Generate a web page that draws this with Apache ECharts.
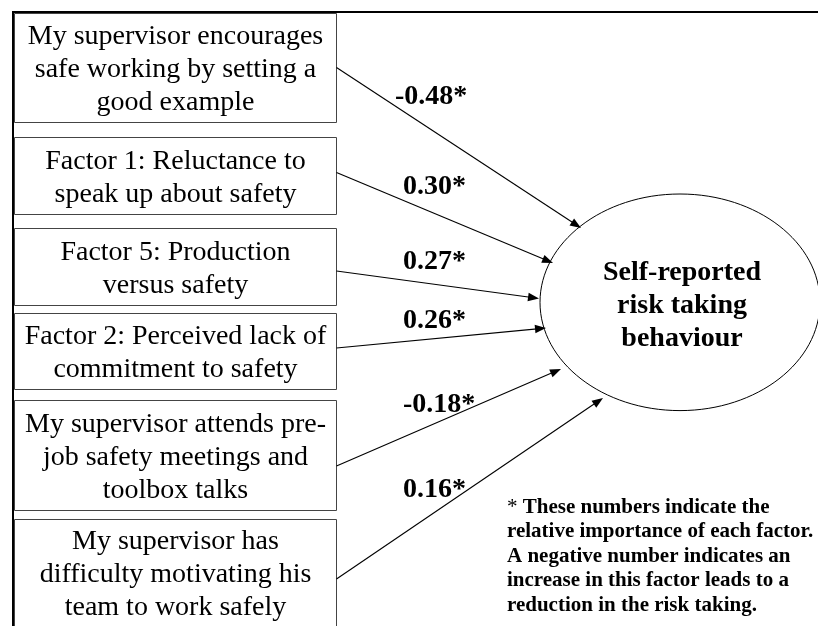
<!DOCTYPE html>
<html>
<head>
<meta charset="utf-8">
<script src="https://cdn.jsdelivr.net/npm/echarts@6/dist/echarts.min.js"></script>
<style>
html,body{margin:0;padding:0;background:#fff;}
#chart{width:818px;height:626px;}
</style>
</head>
<body>
<div id="chart"></div>
<script>
// ---------- DATA ----------
const factors = [
  'My supervisor encourages\nsafe working by setting a\ngood example',
  'Factor 1: Reluctance to\nspeak up about safety',
  'Factor 5: Production\nversus safety',
  'Factor 2: Perceived lack of\ncommitment to safety',
  'My supervisor attends pre-\njob safety meetings and\ntoolbox talks',
  'My supervisor has\ndifficulty motivating his\nteam to work safely'
];
const coefficients = [-0.48, 0.30, 0.27, 0.26, -0.18, 0.16];
const outcome = 'Self-reported\nrisk taking\nbehaviour';
const footnoteLines = [
  'These numbers indicate the',
  'relative importance of each factor.',
  'A negative number indicates an',
  'increase in this factor leads to a',
  'reduction in the risk taking.'
];

// ---------- LAYOUT (diagram units = px of the 818x626 canvas) ----------
const SERIF = '"Liberation Serif", "Times New Roman", serif';
const BOX_X0 = 14.5, BOX_X1 = 336.5;
const boxTop    = [13.5, 137.5, 228.5, 313.5, 400.5, 519.5];
const boxBottom = [122.5, 214.5, 305.5, 389.5, 510.5, 627];
const boxTextY  = [70, 178, 269, 353.5, 457.5, 575];
const arrowFrom = [[336.5, 67.5], [336.5, 172.5], [336.5, 271], [336.5, 348], [336.5, 466], [336.5, 579]];
const arrowTo   = [[581, 228], [553, 263], [539, 298.5], [546, 328], [561, 369], [603, 398]];
const labelPos  = [[395, 97], [403, 187], [403, 262], [403, 321], [403, 405], [403, 490]];
const ELLIPSE = {cx: 680, cy: 302.3, rx: 140, ry: 108.3, tx: 682, ty: 305.5};
const FOOT = {x: 507, y: 556.5};

const chart = echarts.init(document.getElementById('chart'), null, {renderer: 'canvas'});

const idx = factors.map((f, i) => [i]);

const option = {
  animation: false,
  backgroundColor: '#fff',
  grid: {left: 0, right: 0, top: 0, bottom: 0},
  xAxis: {type: 'value', min: 0, max: 818, show: false},
  yAxis: {type: 'value', min: 0, max: 626, inverse: true, show: false},
  series: [
    // frame
    {
      type: 'custom', coordinateSystem: 'cartesian2d', silent: true,
      data: [[0]],
      renderItem: function (params, api) {
        const a = api.coord([13, 12]);
        const b = api.coord([818, 12]);
        const c = api.coord([13, 626]);
        return {type: 'group', children: [
          {type: 'line', shape: {x1: a[0] - 1, y1: a[1], x2: b[0], y2: b[1]}, style: {stroke: '#000', lineWidth: 2}},
          {type: 'line', shape: {x1: a[0], y1: a[1], x2: c[0], y2: c[1]}, style: {stroke: '#000', lineWidth: 2}}
        ]};
      }
    },
    // factor boxes
    {
      type: 'custom', coordinateSystem: 'cartesian2d', silent: true,
      data: idx,
      renderItem: function (params, api) {
        const i = api.value(0);
        const p0 = api.coord([BOX_X0, boxTop[i]]);
        const p1 = api.coord([BOX_X1, boxBottom[i]]);
        const t = api.coord([(BOX_X0 + BOX_X1) / 2, boxTextY[i]]);
        return {type: 'group', children: [
          {type: 'rect', shape: {x: p0[0], y: p0[1], width: p1[0] - p0[0], height: p1[1] - p0[1]},
           style: {fill: '#fff', stroke: '#444', lineWidth: 1}},
          {type: 'text', style: {text: factors[i], x: t[0], y: t[1], align: 'center', verticalAlign: 'middle',
            fontFamily: SERIF, fontSize: 28, lineHeight: 33, fill: '#000'}}
        ]};
      }
    },
    // arrows
    {
      type: 'custom', coordinateSystem: 'cartesian2d', silent: true,
      data: idx,
      renderItem: function (params, api) {
        const i = api.value(0);
        const p0 = api.coord(arrowFrom[i]);
        const p1 = api.coord(arrowTo[i]);
        const dx = p1[0] - p0[0], dy = p1[1] - p0[1];
        const len = Math.sqrt(dx * dx + dy * dy);
        const ux = dx / len, uy = dy / len;
        const hl = 11, hw = 4.2;
        const bx = p1[0] - ux * hl, by = p1[1] - uy * hl;
        return {type: 'group', children: [
          {type: 'line', shape: {x1: p0[0], y1: p0[1], x2: bx + ux * 2, y2: by + uy * 2}, style: {stroke: '#000', lineWidth: 1.1}},
          {type: 'polygon', shape: {points: [[p1[0], p1[1]], [bx - uy * hw, by + ux * hw], [bx + uy * hw, by - ux * hw]]},
           style: {fill: '#000'}}
        ]};
      }
    },
    // coefficient labels
    {
      type: 'custom', coordinateSystem: 'cartesian2d', silent: true,
      data: idx,
      renderItem: function (params, api) {
        const i = api.value(0);
        const p = api.coord(labelPos[i]);
        return {type: 'text', style: {text: coefficients[i].toFixed(2) + '*', x: p[0], y: p[1],
          align: 'left', verticalAlign: 'middle', fontFamily: SERIF, fontSize: 28, fontWeight: 'bold', fill: '#000'}};
      }
    },
    // outcome ellipse
    {
      type: 'custom', coordinateSystem: 'cartesian2d', silent: true,
      data: [[0]],
      renderItem: function (params, api) {
        const c = api.coord([ELLIPSE.cx, ELLIPSE.cy]);
        const e = api.coord([ELLIPSE.cx + ELLIPSE.rx, ELLIPSE.cy + ELLIPSE.ry]);
        const t = api.coord([ELLIPSE.tx, ELLIPSE.ty]);
        return {type: 'group', children: [
          {type: 'ellipse', shape: {cx: c[0], cy: c[1], rx: e[0] - c[0], ry: e[1] - c[1]},
           style: {fill: 'none', stroke: '#000', lineWidth: 1}},
          {type: 'text', style: {text: outcome, x: t[0], y: t[1], align: 'center', verticalAlign: 'middle',
            fontFamily: SERIF, fontSize: 28, fontWeight: 'bold', lineHeight: 33, fill: '#000'}}
        ]};
      }
    },
    // footnote
    {
      type: 'custom', coordinateSystem: 'cartesian2d', silent: true,
      data: [[0]],
      renderItem: function (params, api) {
        const p = api.coord([FOOT.x, FOOT.y]);
        const txt = '{r|*} ' + footnoteLines.join('\n');
        return {type: 'text', style: {text: txt, x: p[0], y: p[1], align: 'left', verticalAlign: 'middle',
          fontFamily: SERIF, fontSize: 21, fontWeight: 'bold', lineHeight: 24.5, fill: '#000',
          rich: {r: {fontFamily: SERIF, fontSize: 21, fontWeight: 'normal', lineHeight: 24.5, fill: '#000'}}}};
      }
    }
  ]
};
chart.setOption(option);
</script>
</body>
</html>
